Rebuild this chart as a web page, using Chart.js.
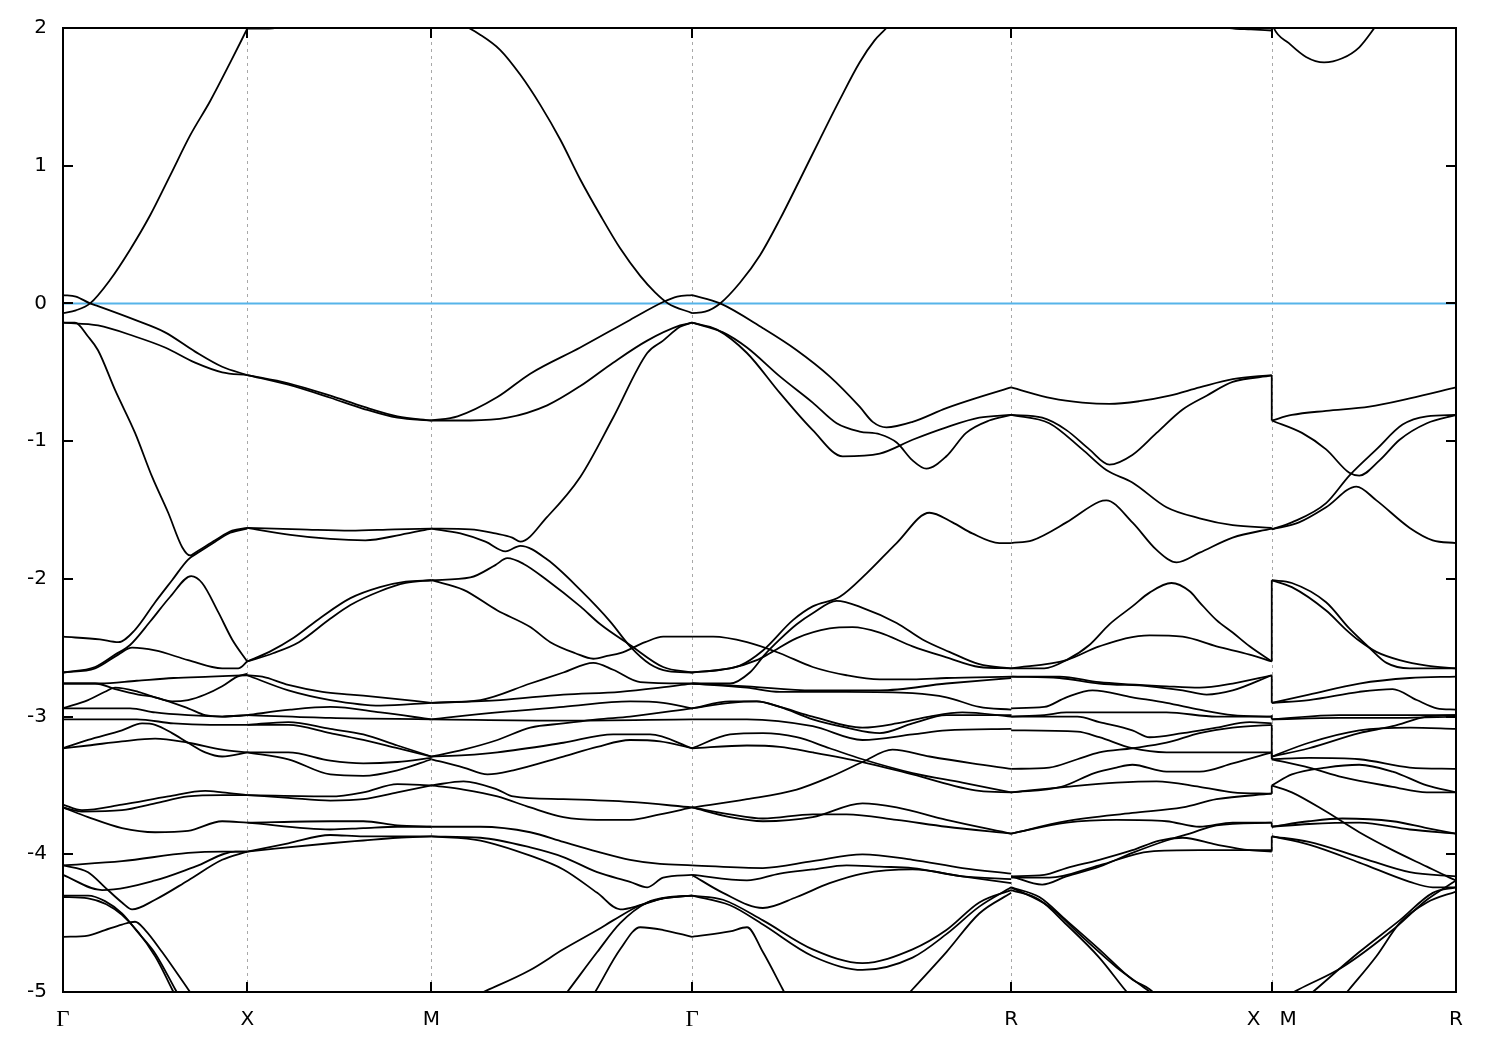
<!DOCTYPE html>
<html><head><meta charset="utf-8">
<script src="https://cdn.jsdelivr.net/npm/chart.js@4.4.1/dist/chart.umd.min.js"></script>
<style>html,body{margin:0;padding:0;background:#fff;}canvas{display:block;}</style>
</head><body>
<canvas id="c" width="1500" height="1050"></canvas>
<script>
// High-symmetry points along the k-path (cumulative path length) and their labels
const kTicks = [0, 0.5, 1.0, 1.7071, 2.5731, 3.2802, 3.7802];
const kTickLabels = ['Γ', 'X', 'M', 'Γ', 'R', 'X   M', 'R'];
const fermiLevel = 0;

// Each band: flat list of (fraction along the segment, energy in eV) pairs
const bandsGX = [
  [0,-0.07, .07,-0.05, .147,0, .255,0.17, .364,0.39, .473,0.64, .582,0.93, .69,1.22, .799,1.47, .908,1.75, 1,1.995],
  [0,0.06, .07,0.05, .147,0, .19,-0.02, .391,-0.12, .554,-0.21, .717,-0.35, .864,-0.46, 1,-0.52],
  [0,-0.14, .19,-0.16, .391,-0.24, .554,-0.32, .717,-0.43, .864,-0.50, 1,-0.52],
  [0,-0.14, .065,-0.14, .136,-0.24, .19,-0.34, .283,-0.63, .391,-0.94, .484,-1.26, .571,-1.52, .647,-1.77, .69,-1.83, .717,-1.81, .826,-1.72, .918,-1.65, 1,-1.63],
  [0,-2.42, .2,-2.44, .3,-2.46, .391,-2.37, .5,-2.17, .592,-2.01, .679,-1.86, .745,-1.80, .826,-1.73, .908,-1.665, 1,-1.635],
  [0,-2.68, .174,-2.64, .283,-2.55, .364,-2.48, .473,-2.31, .582,-2.13, .696,-1.98, .755,-2.03, .842,-2.24, .918,-2.44, 1,-2.60],
  [0,-2.68, .174,-2.65, .30,-2.55, .375,-2.50, .5,-2.52, .679,-2.59, .864,-2.65, .951,-2.65, 1,-2.60],
  [0,-2.76, .2,-2.76, .4,-2.74, .6,-2.72, .8,-2.71, 1,-2.70],
  [0,-2.94, .136,-2.88, .228,-2.82, .283,-2.79, .408,-2.82, .5,-2.86, .592,-2.89, .679,-2.88, .772,-2.84, .864,-2.78, .946,-2.71, 1,-2.69],
  [0,-2.76, .174,-2.76, .283,-2.80, .408,-2.84, .5,-2.86, .679,-2.94, .772,-2.99, .864,-3.00, 1,-2.99],
  [0,-2.94, .174,-2.94, .364,-2.94, .5,-2.97, .679,-2.99, .864,-3.00, 1,-2.99],
  [0,-3.02, .2,-3.02, .4,-3.02, .6,-3.05, .8,-3.06, 1,-3.06],
  [0,-3.23, .136,-3.17, .32,-3.10, .429,-3.05, .5,-3.06, .592,-3.12, .679,-3.19, .772,-3.26, .864,-3.29, 1,-3.26],
  [0,-3.23, .136,-3.21, .32,-3.18, .5,-3.16, .679,-3.19, .864,-3.24, 1,-3.26],
  [0,-3.64, .103,-3.68, .32,-3.64, .571,-3.58, .772,-3.54, .864,-3.55, 1,-3.57],
  [0,-3.66, .103,-3.69, .32,-3.68, .5,-3.63, .679,-3.58, .864,-3.57, 1,-3.57],
  [0,-3.66, .136,-3.73, .32,-3.81, .5,-3.84, .679,-3.83, .864,-3.76, 1,-3.77],
  [0,-4.08, .32,-4.05, .679,-3.99, .864,-3.98, 1,-3.98],
  [0,-4.08, .136,-4.13, .228,-4.24, .32,-4.35, .375,-4.40, .5,-4.33, .679,-4.19, .864,-4.04, 1,-3.98],
  [0,-4.15, .212,-4.26, .5,-4.19, .717,-4.09, .935,-3.98, 1,-3.98],
  [0,-4.30, .136,-4.30, .228,-4.34, .32,-4.43, .408,-4.57, .5,-4.72, .609,-4.98, .70,-5.2],
  [0,-4.31, .136,-4.32, .32,-4.44, .5,-4.74, .592,-4.98, .676,-5.2],
  [0,-4.60, .136,-4.59, .228,-4.55, .32,-4.51, .391,-4.49, .446,-4.55, .538,-4.71, .679,-4.98, .794,-5.2]
];
const bandsXM = [
  [0,1.995, .1,1.995, .2,2.01, .35,2.06],
  [0,-0.52, .223,-0.58, .451,-0.67, .63,-0.75, .815,-0.82, 1,-0.85],
  [0,-0.52, .223,-0.59, .451,-0.685, .63,-0.765, .815,-0.83, 1,-0.85],
  [0,-1.63, .288,-1.64, .56,-1.65, .8,-1.64, 1,-1.635],
  [0,-1.63, .234,-1.68, .451,-1.71, .641,-1.72, .832,-1.68, 1,-1.635],
  [0,-2.60, .12,-2.53, .25,-2.43, .4,-2.28, .56,-2.14, .72,-2.06, .86,-2.02, 1,-2.01],
  [0,-2.60, .14,-2.54, .28,-2.46, .45,-2.29, .56,-2.19, .72,-2.09, .86,-2.03, 1,-2.01],
  [0,-2.70, .082,-2.71, .223,-2.77, .408,-2.82, .56,-2.84, .723,-2.86, 1,-2.90],
  [0,-2.70, .223,-2.81, .451,-2.88, .723,-2.92, 1,-2.90],
  [0,-2.99, .234,-2.95, .451,-2.93, .723,-2.97, 1,-3.02],
  [0,-2.99, .451,-3.01, 1,-3.02],
  [0,-3.06, .223,-3.04, .451,-3.09, .63,-3.13, .815,-3.21, 1,-3.29],
  [0,-3.06, .223,-3.06, .451,-3.12, .63,-3.17, .815,-3.23, 1,-3.29],
  [0,-3.26, .223,-3.26, .451,-3.32, .63,-3.34, .815,-3.33, 1,-3.30],
  [0,-3.26, .223,-3.31, .451,-3.42, .63,-3.43, .815,-3.39, 1,-3.31],
  [0,-3.57, .451,-3.58, .63,-3.55, .815,-3.49, 1,-3.50],
  [0,-3.57, .223,-3.59, .451,-3.61, .63,-3.60, .815,-3.55, 1,-3.50],
  [0,-3.77, .451,-3.76, .63,-3.76, .815,-3.79, 1,-3.80],
  [0,-3.77, .451,-3.82, .63,-3.81, .815,-3.80, 1,-3.80],
  [0,-3.98, .223,-3.92, .451,-3.86, .63,-3.87, 1,-3.87],
  [0,-3.98, .451,-3.92, .63,-3.90, .815,-3.88, 1,-3.87]
];
const bandsMG = [
  [0,2.1, .1,2.04, .188,1.95, .264,1.84, .341,1.66, .418,1.44, .494,1.19, .571,0.90, .648,0.64, .724,0.40, .801,0.20, .858,0.08, .908,0.0, 1,-0.07],
  [0,-0.85, .10,-0.82, .253,-0.68, .379,-0.51, .571,-0.32, .762,-0.12, .889,0.01, .943,0.05, 1,0.06],
  [0,-0.85, .149,-0.85, .291,-0.83, .444,-0.74, .571,-0.60, .697,-0.43, .828,-0.27, .954,-0.16, 1,-0.14],
  [0,-1.635, .149,-1.64, .245,-1.67, .31,-1.70, .341,-1.73, .444,-1.55, .571,-1.26, .697,-0.83, .828,-0.36, .889,-0.27, .954,-0.17, 1,-0.14],
  [0,-1.635, .111,-1.67, .207,-1.73, .284,-1.80, .341,-1.76, .444,-1.86, .571,-2.08, .686,-2.31, .762,-2.49, .839,-2.62, .908,-2.67, 1,-2.68],
  [0,-2.01, .149,-1.99, .245,-1.90, .291,-1.85, .352,-1.89, .444,-2.01, .571,-2.20, .648,-2.33, .762,-2.48, .889,-2.64, 1,-2.68],
  [0,-2.01, .123,-2.08, .253,-2.23, .379,-2.35, .456,-2.46, .552,-2.54, .621,-2.58, .674,-2.56, .724,-2.54, .82,-2.46, .889,-2.42, 1,-2.42],
  [0,-2.90, .188,-2.88, .379,-2.76, .506,-2.68, .621,-2.61, .697,-2.66, .801,-2.75, 1,-2.76],
  [0,-2.90, .264,-2.88, .506,-2.84, .724,-2.82, .877,-2.79, 1,-2.76],
  [0,-3.02, .253,-2.97, .506,-2.93, .762,-2.89, .889,-2.90, 1,-2.94],
  [0,-3.02, .5,-3.03, 1,-3.02],
  [0,-3.29, .123,-3.24, .253,-3.17, .379,-3.08, .506,-3.05, .636,-3.02, .762,-3.00, 1,-2.94],
  [0,-3.29, .13,-3.28, .253,-3.26, .506,-3.19, .697,-3.13, .839,-3.13, 1,-3.23],
  [0,-3.31, .123,-3.37, .215,-3.42, .314,-3.39, .506,-3.29, .636,-3.22, .762,-3.17, .877,-3.18, 1,-3.23],
  [0,-3.50, .123,-3.47, .253,-3.53, .314,-3.58, .506,-3.60, .762,-3.62, 1,-3.66],
  [0,-3.50, .123,-3.53, .253,-3.58, .379,-3.66, .506,-3.73, .636,-3.75, .762,-3.75, .877,-3.71, 1,-3.66],
  [0,-3.80, .188,-3.80, .379,-3.84, .506,-3.91, .636,-3.98, .762,-4.04, .877,-4.07, 1,-4.08],
  [0,-3.87, .188,-3.88, .379,-3.95, .506,-4.02, .636,-4.13, .762,-4.20, .828,-4.24, .889,-4.17, 1,-4.15],
  [0,-3.87, .188,-3.90, .379,-4.01, .506,-4.11, .636,-4.28, .724,-4.40, .801,-4.37, .889,-4.32, 1,-4.30],
  [0,-5.17, .199,-5.0, .379,-4.84, .506,-4.69, .636,-4.55, .697,-4.48, .801,-4.37, .889,-4.32, 1,-4.30],
  [.44,-5.2, .521,-5.0, .636,-4.71, .724,-4.50, .828,-4.35, .916,-4.31, 1,-4.30],
  [.563,-5.2, .628,-5.0, .724,-4.69, .801,-4.53, .889,-4.55, 1,-4.60]
];
const bandsGR = [
  [0,-0.07, .041,-0.06, .088,0.0, .15,0.15, .213,0.35, .275,0.61, .338,0.90, .4,1.19, .463,1.48, .525,1.75, .572,1.91, .609,2.0, .66,2.15],
  [0,0.06, .088,0.0, .222,-0.18, .328,-0.34, .431,-0.53, .525,-0.75, .566,-0.86, .609,-0.90, .691,-0.86, .797,-0.76, .9,-0.68, 1,-0.61],
  [0,-0.14, .097,-0.21, .172,-0.32, .275,-0.53, .378,-0.72, .453,-0.87, .525,-0.93, .588,-0.95, .641,-1.01, .691,-1.14, .734,-1.20, .797,-1.11, .859,-0.94, .931,-0.85, 1,-0.81],
  [0,-0.14, .078,-0.19, .172,-0.36, .275,-0.65, .378,-0.92, .472,-1.11, .588,-1.09, .691,-0.99, .797,-0.90, .9,-0.83, 1,-0.81],
  [0,-2.68, .088,-2.66, .15,-2.63, .222,-2.52, .316,-2.30, .378,-2.20, .463,-2.13, .547,-1.96, .641,-1.74, .744,-1.52, .816,-1.59, .878,-1.67, .963,-1.74, 1,-1.74],
  [0,-2.76, .119,-2.76, .181,-2.68, .228,-2.55, .275,-2.44, .328,-2.33, .378,-2.25, .453,-2.16, .534,-2.21, .641,-2.32, .722,-2.44, .806,-2.53, .9,-2.62, 1,-2.65],
  [0,-2.68, .119,-2.65, .203,-2.59, .244,-2.54, .328,-2.43, .431,-2.36, .503,-2.35, .588,-2.39, .691,-2.49, .797,-2.57, .9,-2.64, 1,-2.65],
  [0,-2.42, .066,-2.42, .172,-2.46, .275,-2.54, .378,-2.64, .484,-2.70, .588,-2.73, .691,-2.73, .797,-2.72, 1,-2.71],
  [0,-2.76, .172,-2.78, .378,-2.81, .588,-2.81, .797,-2.76, 1,-2.72],
  [0,-2.76, .172,-2.79, .275,-2.82, .484,-2.82, .691,-2.83, .797,-2.86, .9,-2.93, 1,-2.95],
  [0,-2.94, .119,-2.90, .203,-2.89, .275,-2.93, .378,-3.00, .534,-3.08, .641,-3.05, .744,-3.00, .847,-2.97, 1,-3.00],
  [0,-2.94, .119,-2.89, .203,-2.89, .275,-2.93, .378,-3.02, .484,-3.08, .588,-3.12, .691,-3.05, .797,-2.99, 1,-2.99],
  [0,-3.02, .172,-3.02, .378,-3.07, .534,-3.17, .691,-3.13, .797,-3.10, 1,-3.09],
  [0,-3.23, .119,-3.13, .222,-3.12, .328,-3.15, .431,-3.23, .534,-3.31, .691,-3.41, .847,-3.48, 1,-3.55],
  [0,-3.23, .172,-3.21, .275,-3.22, .378,-3.26, .534,-3.33, .691,-3.42, .9,-3.54, 1,-3.55],
  [0,-3.66, .172,-3.60, .328,-3.53, .431,-3.44, .534,-3.33, .628,-3.24, .744,-3.29, .878,-3.34, 1,-3.38],
  [0,-3.66, .119,-3.73, .222,-3.76, .378,-3.73, .534,-3.63, .641,-3.66, .797,-3.75, 1,-3.85],
  [0,-3.66, .119,-3.71, .222,-3.74, .378,-3.71, .484,-3.71, .641,-3.75, .797,-3.80, 1,-3.85],
  [0,-4.08, .222,-4.10, .378,-4.05, .534,-4.00, .691,-4.04, .847,-4.10, 1,-4.14],
  [0,-4.15, .172,-4.19, .275,-4.14, .378,-4.11, .484,-4.08, .588,-4.09, .691,-4.10, .847,-4.16, 1,-4.18],
  [0,-4.15, .097,-4.28, .222,-4.39, .328,-4.31, .431,-4.21, .534,-4.14, .691,-4.11, .847,-4.16, 1,-4.21],
  [0,-4.30, .097,-4.33, .222,-4.48, .378,-4.69, .534,-4.79, .691,-4.69, .797,-4.55, .9,-4.35, 1,-4.26],
  [0,-4.30, .119,-4.37, .222,-4.51, .378,-4.74, .534,-4.84, .691,-4.75, .797,-4.58, .9,-4.38, 1,-4.24],
  [0,-4.60, .119,-4.56, .172,-4.53, .222,-4.71, .284,-4.98, .334,-5.2],
  [.606,-5.2, .691,-4.98, .797,-4.71, .9,-4.43, 1,-4.28]
];
const bandsRX = [
  [.7,2.06, .838,2.0, .92,1.99, 1,1.982],
  [0,-0.61, .158,-0.69, .273,-0.72, .377,-0.73, .492,-0.71, .608,-0.67, .723,-0.61, .85,-0.55, 1,-0.52],
  [0,-0.81, .119,-0.83, .212,-0.92, .3,-1.06, .377,-1.17, .465,-1.10, .558,-0.94, .658,-0.77, .75,-0.67, .85,-0.57, 1,-0.525],
  [0,-0.81, .146,-0.87, .273,-1.06, .365,-1.21, .465,-1.30, .596,-1.48, .723,-1.56, .85,-1.61, 1,-1.63],
  [0,-1.74, .081,-1.72, .212,-1.59, .338,-1.44, .365,-1.43, .465,-1.59, .558,-1.79, .635,-1.88, .723,-1.81, .85,-1.70, 1,-1.635],
  [0,-2.65, .127,-2.65, .212,-2.59, .3,-2.48, .377,-2.33, .465,-2.20, .531,-2.10, .615,-2.03, .685,-2.09, .723,-2.17, .788,-2.30, .85,-2.39, .915,-2.49, 1,-2.60],
  [0,-2.65, .212,-2.59, .338,-2.49, .531,-2.41, .658,-2.42, .788,-2.49, .915,-2.55, 1,-2.60],
  [0,-2.71, .185,-2.71, .338,-2.75, .596,-2.78, .723,-2.79, .85,-2.76, 1,-2.70],
  [0,-2.71, .185,-2.72, .338,-2.76, .531,-2.78, .658,-2.81, .75,-2.84, .85,-2.81, 1,-2.70],
  [0,-2.94, .127,-2.93, .212,-2.86, .312,-2.81, .465,-2.86, .596,-2.90, .723,-2.95, .85,-2.99, 1,-3.00],
  [0,-3.00, .127,-2.99, .212,-2.97, .338,-2.97, .596,-2.97, .788,-3.00, 1,-3.00],
  [0,-3.00, .254,-3.00, .338,-3.04, .465,-3.10, .531,-3.15, .658,-3.12, .788,-3.08, .915,-3.04, 1,-3.05],
  [0,-3.10, .254,-3.11, .338,-3.15, .465,-3.23, .596,-3.26, .723,-3.26, .85,-3.26, 1,-3.26],
  [0,-3.38, .146,-3.37, .254,-3.31, .338,-3.26, .465,-3.23, .596,-3.19, .723,-3.12, .85,-3.08, 1,-3.06],
  [0,-3.55, .192,-3.51, .319,-3.41, .404,-3.37, .465,-3.35, .596,-3.40, .723,-3.40, .85,-3.34, 1,-3.26],
  [0,-3.55, .212,-3.51, .404,-3.48, .558,-3.47, .723,-3.51, .85,-3.55, 1,-3.56],
  [0,-3.85, .212,-3.77, .404,-3.75, .596,-3.76, .723,-3.80, .85,-3.77, 1,-3.77],
  [0,-3.85, .212,-3.76, .465,-3.70, .658,-3.66, .788,-3.60, 1,-3.56],
  [0,-4.16, .119,-4.22, .212,-4.16, .338,-4.09, .465,-3.99, .596,-3.90, .685,-3.85, .788,-3.79, 1,-3.77],
  [0,-4.16, .127,-4.15, .212,-4.10, .338,-4.04, .465,-3.97, .569,-3.90, .658,-3.88, .788,-3.93, .915,-3.97, 1,-3.98],
  [0,-4.17, .146,-4.17, .338,-4.08, .531,-3.98, .723,-3.97, 1,-3.97],
  [0,-4.24, .108,-4.31, .212,-4.48, .338,-4.69, .465,-4.91, .531,-4.98, .646,-5.2],
  [0,-4.26, .108,-4.33, .212,-4.51, .338,-4.75, .435,-4.98, .531,-5.2],
  [0,-4.24, .146,-4.38, .273,-4.60, .404,-4.82, .519,-4.98, .67,-5.2]
];
const bandsMR = [
  [0,2.05, .011,2.0, .093,1.89, .186,1.79, .284,1.75, .383,1.78, .475,1.86, .557,2.0, .62,2.12],
  [0,-0.85, .109,-0.81, .295,-0.78, .53,-0.75, .749,-0.69, 1,-0.61],
  [0,-0.85, .164,-0.94, .295,-1.06, .421,-1.23, .475,-1.25, .585,-1.14, .694,-0.99, .842,-0.87, 1,-0.81],
  [0,-1.64, .109,-1.59, .295,-1.45, .421,-1.25, .568,-1.06, .71,-0.88, .842,-0.82, 1,-0.81],
  [0,-1.64, .148,-1.59, .295,-1.48, .459,-1.33, .568,-1.43, .749,-1.63, .874,-1.72, 1,-1.74],
  [0,-2.01, .109,-2.03, .295,-2.17, .421,-2.36, .53,-2.50, .623,-2.61, .749,-2.65, 1,-2.65],
  [0,-2.01, .109,-2.06, .295,-2.23, .404,-2.37, .475,-2.45, .568,-2.53, .694,-2.59, .842,-2.63, 1,-2.65],
  [0,-2.90, .202,-2.84, .475,-2.76, .749,-2.72, 1,-2.71],
  [0,-2.90, .202,-2.88, .475,-2.82, .656,-2.80, .787,-2.88, .896,-2.94, 1,-2.95],
  [0,-3.02, .366,-3.01, .694,-3.01, 1,-3.00],
  [0,-3.02, .366,-2.99, .694,-2.99, 1,-2.99],
  [0,-3.29, .202,-3.19, .475,-3.10, .749,-3.08, 1,-3.09],
  [0,-3.29, .202,-3.23, .475,-3.12, .656,-3.07, .842,-3.00, 1,-2.99],
  [0,-3.31, .202,-3.37, .383,-3.44, .656,-3.51, .842,-3.55, 1,-3.55],
  [0,-3.31, .202,-3.30, .475,-3.31, .749,-3.37, 1,-3.38],
  [0,-3.50, .109,-3.42, .295,-3.37, .475,-3.35, .656,-3.40, .842,-3.50, 1,-3.55],
  [0,-3.50, .109,-3.55, .295,-3.69, .475,-3.84, .656,-3.97, .842,-4.09, .951,-4.16, 1,-4.19],
  [0,-3.80, .202,-3.76, .383,-3.74, .656,-3.76, .842,-3.81, 1,-3.85],
  [0,-3.80, .202,-3.78, .475,-3.77, .749,-3.82, 1,-3.85],
  [0,-3.87, .202,-3.91, .475,-4.02, .749,-4.13, 1,-4.16],
  [0,-3.87, .202,-3.93, .475,-4.06, .749,-4.20, .874,-4.24, 1,-4.24],
  [0,-5.09, .148,-4.98, .383,-4.82, .656,-4.55, .842,-4.33, 1,-4.19],
  [.05,-5.2, .24,-4.98, .475,-4.71, .694,-4.48, .874,-4.28, 1,-4.24],
  [.284,-5.2, .421,-4.98, .568,-4.74, .694,-4.50, .842,-4.35, 1,-4.27]
];
// energies joined by the vertical jump at the X|M discontinuity
const jumpFromX = [1.98, -0.52, -1.63, -2.60, -2.70, -2.99, -3.06, -3.26, -3.56, -3.77, -3.98];
const jumpToM   = [2.05, -0.85, -1.64, -2.01, -2.90, -3.02, -3.29, -3.31, -3.50, -3.80, -3.87];

// segment -> (band list, start node index, end node index)
const segments = [
  [bandsGX, 0, 1], [bandsXM, 1, 2], [bandsMG, 2, 3],
  [bandsGR, 3, 4], [bandsRX, 4, 5], [bandsMR, 5, 6]
];

const bandStyle = {borderColor:'#000', borderWidth:1.8, pointRadius:0, fill:false,
                   cubicInterpolationMode:'monotone', order:0};
const datasets = [];
segments.forEach(([bands, i0, i1]) => {
  const k0 = kTicks[i0], k1 = kTicks[i1];
  bands.forEach(b => {
    const pts = [];
    for (let i = 0; i < b.length; i += 2) pts.push({x: k0 + b[i] * (k1 - k0), y: b[i + 1]});
    datasets.push(Object.assign({data: pts}, bandStyle));
  });
});
const kXM = kTicks[5];
jumpFromX.forEach((e, i) => {
  datasets.push({data:[{x:kXM, y:e}, {x:kXM, y:jumpToM[i]}], borderColor:'#000',
    borderWidth:1.8, pointRadius:0, tension:0, order:0});
});
datasets.push({data:[{x:kTicks[0], y:fermiLevel}, {x:kTicks[kTicks.length-1], y:fermiLevel}],
  borderColor:'#56b4e9', borderWidth:2, pointRadius:0, tension:0, order:1});

const framePlugin = {
  id: 'frame',
  beforeDatasetsDraw(chart) {
    const {ctx, chartArea: a, scales: {x}} = chart;
    ctx.save();
    ctx.strokeStyle = '#a8a8a8'; ctx.lineWidth = 1; ctx.setLineDash([3, 4]);
    kTicks.slice(1, -1).forEach(k => {
      const px = Math.round(x.getPixelForValue(k)) + 0.5;
      ctx.beginPath(); ctx.moveTo(px, a.top); ctx.lineTo(px, a.bottom); ctx.stroke();
    });
    ctx.restore();
  },
  afterDatasetsDraw(chart) {
    const {ctx, chartArea: a, scales: {x, y}} = chart;
    const seg = (x1, y1, x2, y2) => { ctx.beginPath(); ctx.moveTo(x1, y1); ctx.lineTo(x2, y2); ctx.stroke(); };
    ctx.save();
    ctx.strokeStyle = '#000'; ctx.lineWidth = 2;
    ctx.strokeRect(a.left, a.top, a.right - a.left, a.bottom - a.top);
    const L = 10;
    y.ticks.forEach(t => {
      const py = Math.round(y.getPixelForValue(t.value));
      seg(a.left, py, a.left + L, py); seg(a.right - L, py, a.right, py);
    });
    kTicks.forEach(k => {
      const px = Math.round(x.getPixelForValue(k));
      seg(px, a.bottom, px, a.bottom - L); seg(px, a.top, px, a.top + L);
    });
    ctx.restore();
  }
};

new Chart(document.getElementById('c'), {
  type: 'line',
  data: {datasets},
  options: {
    responsive: false, animation: false, devicePixelRatio: 1,
    layout: {padding: {top: 28, right: 44, left: 0, bottom: 0}},
    plugins: {legend: {display: false}, tooltip: {enabled: false}},
    scales: {
      x: {
        type: 'linear', min: kTicks[0], max: kTicks[kTicks.length - 1],
        grid: {display: false, drawTicks: false}, border: {display: false},
        afterBuildTicks: s => { s.ticks = kTicks.map(v => ({value: v})); },
        afterFit: s => { s.height = 58; },
        ticks: {
          autoSkip: false, maxRotation: 0, padding: 16, color: '#000',
          callback: (v, i) => kTickLabels[i],
          font: ctx => kTickLabels[ctx.index] === 'Γ'
            ? {family: 'Liberation Serif', size: 23, lineHeight: 24 / 23}
            : {family: 'DejaVu Sans', size: 20, lineHeight: 1.2}
        }
      },
      y: {
        min: -5, max: 2,
        grid: {display: false, drawTicks: false}, border: {display: false},
        afterFit: s => { s.width = 63; },
        ticks: {stepSize: 1, padding: 16, color: '#000', font: {family: 'DejaVu Sans', size: 20}}
      }
    }
  },
  plugins: [framePlugin]
});
</script>
</body></html>
